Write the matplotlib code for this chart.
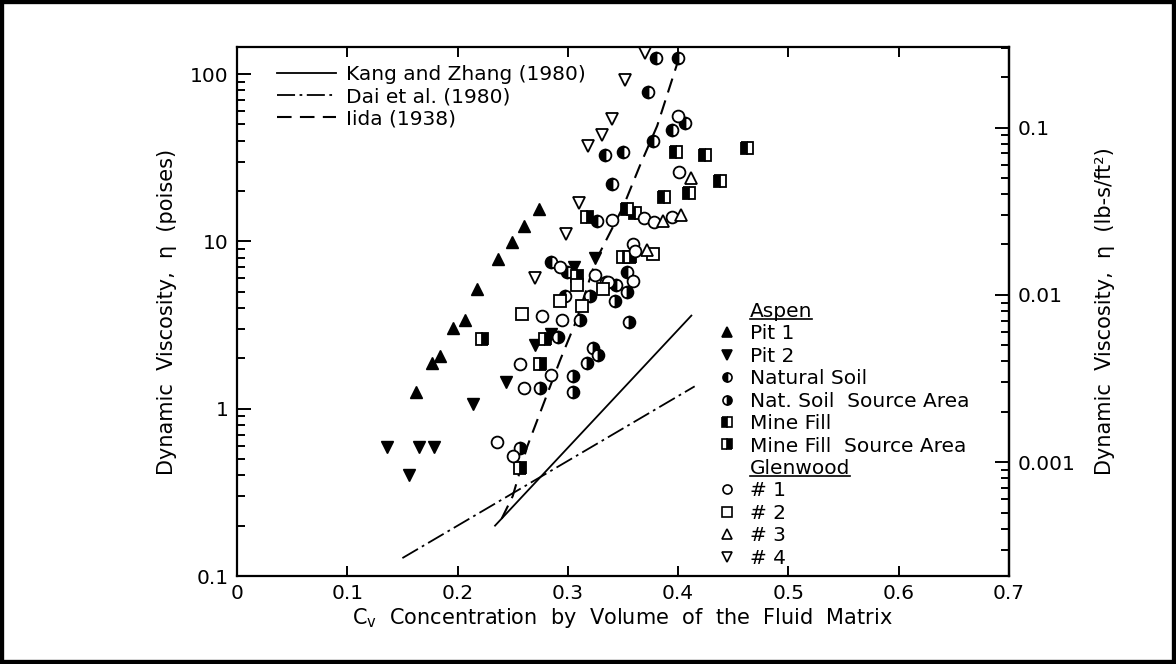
import numpy as np
import matplotlib
matplotlib.use("Agg")
import matplotlib.pyplot as plt
from matplotlib.lines import Line2D
from matplotlib.patches import Rectangle
from matplotlib.ticker import NullFormatter

plt.rcParams['font.family'] = ['DejaVu Sans']
plt.rcParams['mathtext.fontset'] = 'dejavusans'

# ---- data (Cv, viscosity in poises) ----
pit1_x = [0.162, 0.177, 0.184, 0.196, 0.207, 0.218, 0.237, 0.249, 0.260, 0.274]
pit1_y = [1.26, 1.88, 2.07, 3.05, 3.37, 5.16, 7.8, 9.9, 12.3, 15.5]

pit2_x = [0.136, 0.156, 0.165, 0.179, 0.214, 0.244, 0.270, 0.285, 0.306, 0.325]
pit2_y = [0.59, 0.40, 0.59, 0.59, 1.07, 1.45, 2.4, 2.8, 7.0, 8.0]

natsoil_x = [0.380, 0.400, 0.373, 0.406, 0.394, 0.377, 0.334, 0.350, 0.340,
             0.326, 0.285, 0.299, 0.354, 0.344, 0.297]
natsoil_y = [125, 125, 78, 51, 46, 40, 33, 34, 22, 13.3, 7.5, 6.6, 6.6, 5.5, 4.7]

natsoil_src_x = [0.335, 0.354, 0.320, 0.343, 0.355, 0.311, 0.291, 0.323, 0.327,
                 0.317, 0.305, 0.275, 0.305, 0.257]
natsoil_src_y = [5.7, 5.0, 4.7, 4.4, 3.3, 3.4, 2.7, 2.3, 2.1, 1.88, 1.56, 1.33, 1.25, 0.58]

minefill_x = [0.398, 0.424, 0.462, 0.438, 0.387, 0.410, 0.354, 0.361]
minefill_y = [34, 33, 36, 23, 18.5, 19.5, 15.5, 14.8]

minefill_src_x = [0.317, 0.350, 0.356, 0.308, 0.279, 0.275, 0.257, 0.222]
minefill_src_y = [14, 8.1, 8.1, 6.2, 2.6, 1.86, 0.44, 2.6]

glen1_x = [0.400, 0.401, 0.340, 0.369, 0.378, 0.394, 0.359, 0.361, 0.293, 0.325,
           0.336, 0.359, 0.277, 0.295, 0.257, 0.285, 0.260, 0.236, 0.250]
glen1_y = [56, 26, 13.5, 13.7, 13.1, 14, 9.7, 8.7, 7.0, 6.3,
           5.7, 5.8, 3.6, 3.4, 1.84, 1.58, 1.33, 0.63, 0.52]

glen2_x = [0.377, 0.308, 0.332, 0.293, 0.313, 0.258]
glen2_y = [8.4, 5.5, 5.2, 4.4, 4.1, 3.7]

glen3_x = [0.412, 0.386, 0.403, 0.372]
glen3_y = [24, 13.3, 14.3, 8.9]

glen4_x = [0.370, 0.352, 0.340, 0.331, 0.318, 0.310, 0.298, 0.270]
glen4_y = [134, 92, 54, 43, 37, 17, 11, 6.0]

# curves
kang_x = [0.234, 0.412]
kang_y = [0.20, 3.6]
dai_x = [0.150, 0.415]
dai_y = [0.128, 1.36]
iida_x = [0.240, 0.250, 0.263, 0.277, 0.293, 0.308, 0.325, 0.350, 0.365, 0.381, 0.400]
iida_y = [0.22, 0.30, 0.59, 1.03, 1.95, 3.4, 7.6, 16, 28, 49, 120]

x_ticks = [0, 0.1, 0.2, 0.3, 0.4, 0.5, 0.6, 0.7]
x_labels = ['0', '0.1', '0.2', '0.3', '0.4', '0.5', '0.6', '0.7']
y_ticks = [0.1, 1, 10, 100]
y_labels = ['0.1', '1', '10', '100']
y2_ticks = [0.001, 0.01, 0.1]
y2_labels = ['0.001', '0.01', '0.1']

POISE_PER_LBSFT2 = 478.8

fs = 14.5     # tick and legend text
lfs = 15      # axis labels

fig = plt.figure(figsize=(11.76, 6.64), dpi=100)
ax = fig.add_axes([0.2015, 0.1325, 0.6565, 0.7967])
ax.set_yscale('log')
ax.set_xlim(0, 0.7)
ax.set_ylim(0.1, 145)

ms = 8.5
ax.plot(kang_x, kang_y, '-', color='black', lw=1.3)
ax.plot(dai_x, dai_y, color='black', lw=1.3, dashes=(10, 2.5, 1.5, 2.5))
ax.plot(iida_x, iida_y, color='black', lw=1.5, dashes=(7, 4))

ax.plot(pit1_x, pit1_y, '^', ms=ms, color='black', ls='none')
ax.plot(pit2_x, pit2_y, 'v', ms=ms, color='black', ls='none')
ax.plot(natsoil_x, natsoil_y, 'o', ms=ms, ls='none', fillstyle='left',
        mfc='black', mec='black', markerfacecoloralt='white', mew=1.3)
ax.plot(natsoil_src_x, natsoil_src_y, 'o', ms=ms, ls='none', fillstyle='right',
        mfc='black', mec='black', markerfacecoloralt='white', mew=1.3)
ax.plot(minefill_x, minefill_y, 's', ms=ms, ls='none', fillstyle='left',
        mfc='black', mec='black', markerfacecoloralt='white', mew=1.3)
ax.plot(minefill_src_x, minefill_src_y, 's', ms=ms, ls='none', fillstyle='right',
        mfc='black', mec='black', markerfacecoloralt='white', mew=1.3)
ax.plot(glen1_x, glen1_y, 'o', ms=ms, ls='none', mfc='white', mec='black', mew=1.3)
ax.plot(glen2_x, glen2_y, 's', ms=ms, ls='none', mfc='white', mec='black', mew=1.3)
ax.plot(glen3_x, glen3_y, '^', ms=ms, ls='none', mfc='white', mec='black', mew=1.3)
ax.plot(glen4_x, glen4_y, 'v', ms=ms, ls='none', mfc='white', mec='black', mew=1.3)

# axes styling
for sp in ax.spines.values():
    sp.set_linewidth(1.6)
ax.set_xticks(x_ticks, labels=x_labels)
ax.set_yticks(y_ticks, labels=y_labels)
ax.yaxis.set_minor_formatter(NullFormatter())
ax.tick_params(axis='both', which='both', direction='in', labelsize=fs, width=1.4)
ax.tick_params(axis='x', which='major', length=7, top=True, pad=6)
ax.tick_params(axis='y', which='major', length=10, right=False, pad=6)
ax.tick_params(axis='y', which='minor', length=6, right=False)

ax.set_xlabel(r'C$_\mathrm{v}$  Concentration  by  Volume  of  the  Fluid  Matrix',
              fontsize=lfs)
ax.set_ylabel('Dynamic  Viscosity,  η  (poises)', fontsize=lfs)
ax.xaxis.set_label_coords(0.5, -0.057)
ax.yaxis.set_label_coords(-0.078, 0.5)

sec = ax.secondary_yaxis('right', functions=(lambda p: p / POISE_PER_LBSFT2,
                                             lambda l: l * POISE_PER_LBSFT2))
sec.set_yticks(y2_ticks, labels=y2_labels)
sec.yaxis.set_minor_formatter(NullFormatter())
sec.tick_params(which='both', direction='in', labelsize=fs, width=1.4)
sec.tick_params(which='major', length=10, pad=6)
sec.tick_params(which='minor', length=6)
sec.spines['right'].set_linewidth(1.6)
sec.set_ylabel('Dynamic  Viscosity,  η  (lb-s/ft²)', fontsize=lfs, labelpad=14)

# legend for the curves
curve_handles = [
    Line2D([], [], color='black', lw=1.3),
    Line2D([], [], color='black', lw=1.3, dashes=(10, 2.5, 1.5, 2.5)),
    Line2D([], [], color='black', lw=1.5, dashes=(7, 4)),
]
curve_labels = ['Kang and Zhang (1980)', 'Dai et al. (1980)', 'Iida (1938)']
leg1 = ax.legend(curve_handles, curve_labels, loc='upper left',
                 bbox_to_anchor=(0.052, 0.966), frameon=False, fontsize=fs,
                 handlelength=2.9, handletextpad=0.5, labelspacing=0.15,
                 borderpad=0, borderaxespad=0)
ax.add_artist(leg1)

# legend for the sources
blank = Line2D([], [], ls='none', marker='')
hkw = dict(ls='none', ms=6.5, mew=1.2)
src_handles = [
    blank,
    Line2D([], [], marker='^', color='black', **hkw),
    Line2D([], [], marker='v', color='black', **hkw),
    Line2D([], [], marker='o', fillstyle='left', mfc='black', mec='black',
           markerfacecoloralt='white', **hkw),
    Line2D([], [], marker='o', fillstyle='right', mfc='black', mec='black',
           markerfacecoloralt='white', **hkw),
    Line2D([], [], marker='s', fillstyle='left', mfc='black', mec='black',
           markerfacecoloralt='white', **hkw),
    Line2D([], [], marker='s', fillstyle='right', mfc='black', mec='black',
           markerfacecoloralt='white', **hkw),
    blank,
    Line2D([], [], marker='o', mfc='white', mec='black', **hkw),
    Line2D([], [], marker='s', mfc='white', mec='black', **hkw),
    Line2D([], [], marker='^', mfc='white', mec='black', **hkw),
    Line2D([], [], marker='v', mfc='white', mec='black', **hkw),
]
src_labels = ['Aspen', 'Pit 1', 'Pit 2', 'Natural Soil', 'Nat. Soil  Source Area',
              'Mine Fill', 'Mine Fill  Source Area', 'Glenwood',
              '# 1', '# 2', '# 3', '# 4']
leg2 = ax.legend(src_handles, src_labels, loc='upper left',
                 bbox_to_anchor=(0.624, 0.518), frameon=False, fontsize=fs,
                 handlelength=0.8, handletextpad=0.75, labelspacing=0.17,
                 borderpad=0, borderaxespad=0)

# underline the group headers
fig.canvas.draw()
renderer = fig.canvas.get_renderer()
for txt in leg2.get_texts():
    if txt.get_text() in ('Aspen', 'Glenwood'):
        bb = txt.get_window_extent(renderer)
        (x0, y0), (x1, _) = fig.transFigure.inverted().transform(
            [(bb.x0, bb.y0 + 2), (bb.x1, bb.y0 + 2)])
        fig.add_artist(Line2D([x0, x1], [y0, y0], color='black', lw=1.2,
                              transform=fig.transFigure))

# frame around the whole picture
fig.add_artist(Rectangle((0, 0), 1, 1, transform=fig.transFigure, fill=False,
                         lw=6, ec='black'))

fig.savefig('out.png', dpi=100)
